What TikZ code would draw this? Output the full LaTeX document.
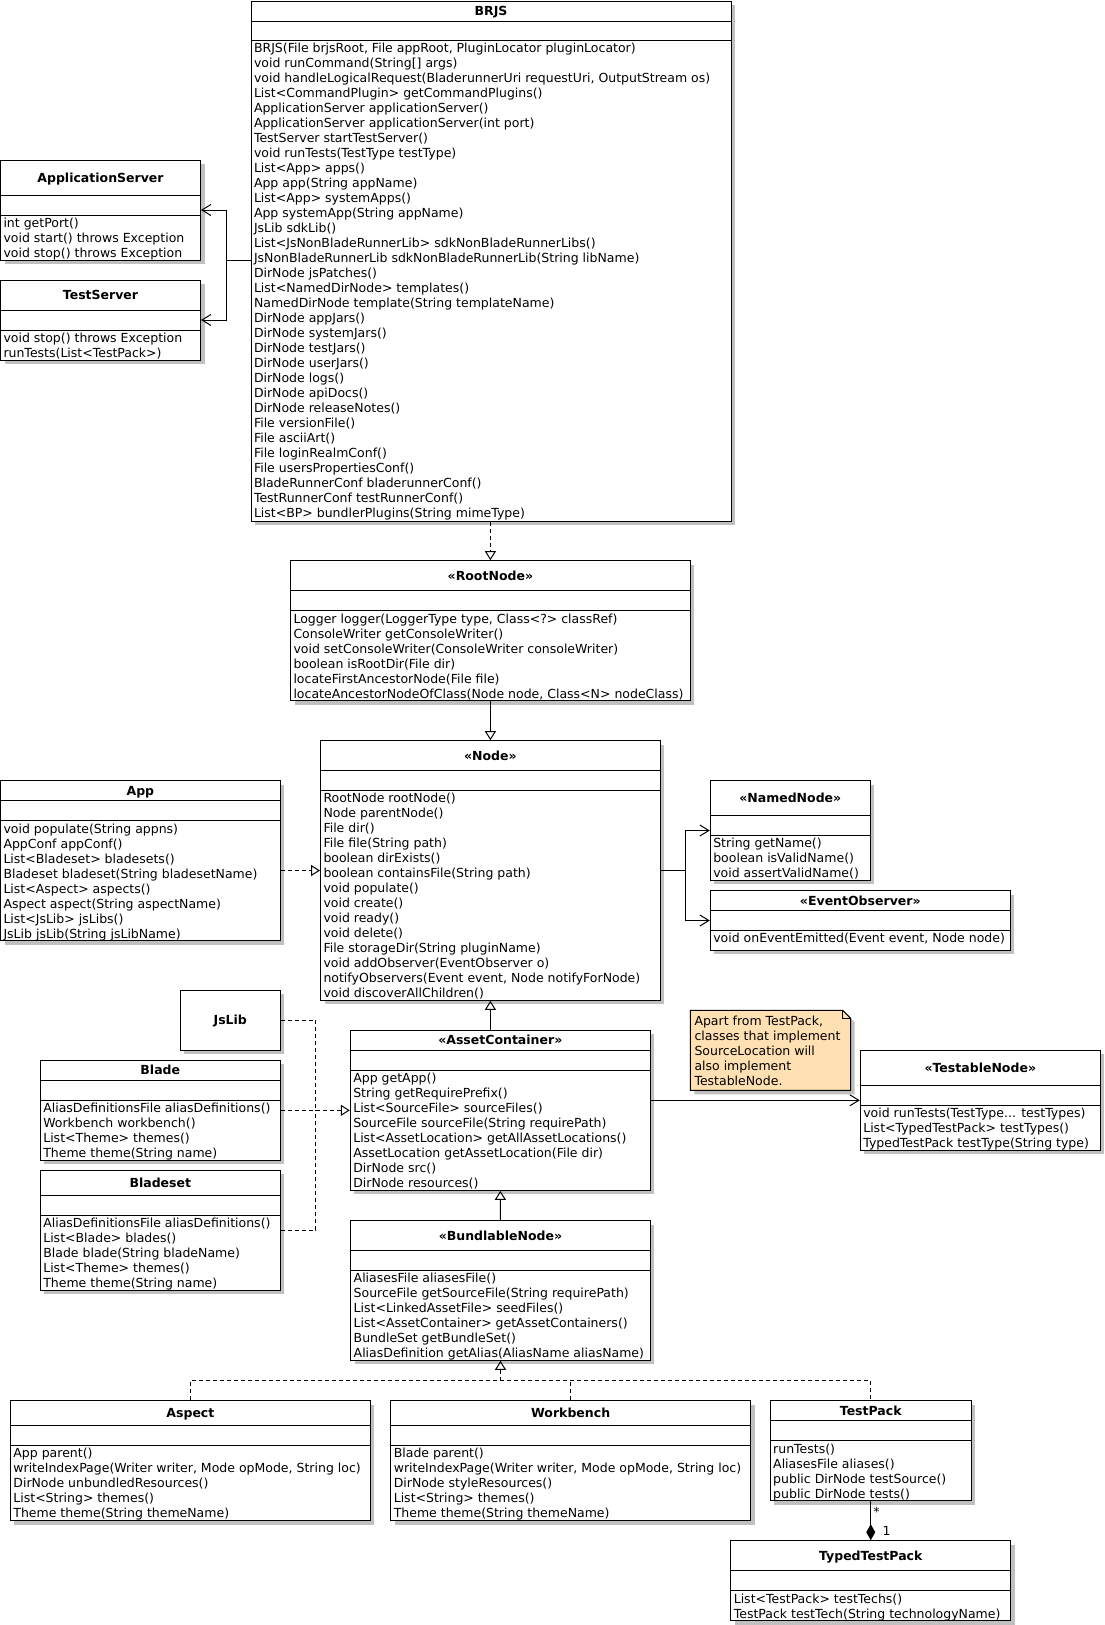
\documentclass[tikz,border=0pt]{standalone}
\usepackage{fontspec}
\setmainfont{DejaVu Sans}
\usepackage{tikz}
\usetikzlibrary{arrows.meta,fit,calc}

\definecolor{shadowgray}{RGB}{192,192,192}
\definecolor{notefill}{RGB}{255,224,178}

\tikzset{
	classbox/.style={draw, fill=white, inner sep=0pt},
	classtitle/.style={font=\fontsize{12.5}{15}\selectfont\bfseries, anchor=base, inner sep=0pt},
	member/.style={font=\fontsize{12.5}{15}\selectfont, anchor=base west, inner sep=0pt},
	mult/.style={font=\fontsize{12.5}{15}\selectfont, inner sep=0pt},
	dashline/.style={dash pattern=on 4pt off 3pt},
	realize/.style={dashline, -{Triangle[open, length=9pt, width=11pt]}},
	generalize/.style={-{Triangle[open, length=9pt, width=11pt]}},
	assoc/.style={-{Straight Barb[length=9pt, width=11pt]}},
	compose/.style={-{Diamond[length=16pt, width=9pt]}}
}

% name, x1, y1, x2, y2, title line, empty line, title, members
\newcommand{\umlclass}[9]{%
	\fill [shadowgray] (#2+4,#3+4) rectangle (#4+4,#5+4);
	\node [classbox, fit={(#2,#3) (#4,#5)}] (#1) {};
	\draw (#2,#6) -- (#4,#6);
	\draw (#2,#7) -- (#4,#7);
	\node [classtitle] (#1-title) at ({(#2+#4)/2},{(#3+#6)/2+4.6}) {#8};
	\foreach \m [count=\i] in {#9}
		\node [member] (#1-m\i) at (#2+2.5,{#7+12.3+15*(\i-1)}) {\m};
}

\begin{document}
\begin{tikzpicture}[x=1pt, y=-1pt, line width=1pt]
	\useasboundingbox (0,0) rectangle (1105,1625);

	\umlclass{BRJS}{251}{1}{731}{521}{21}{40}{BRJS}{%
		{BRJS(File brjsRoot, File appRoot, PluginLocator pluginLocator)},
		{void runCommand(String[] args)},
		{void handleLogicalRequest(BladerunnerUri requestUri, OutputStream os)},
		{List<CommandPlugin> getCommandPlugins()},
		{ApplicationServer applicationServer()},
		{ApplicationServer applicationServer(int port)},
		{TestServer startTestServer()},
		{void runTests(TestType testType)},
		{List<App> apps()},
		{App app(String appName)},
		{List<App> systemApps()},
		{App systemApp(String appName)},
		{JsLib sdkLib()},
		{List<JsNonBladeRunnerLib> sdkNonBladeRunnerLibs()},
		{JsNonBladeRunnerLib sdkNonBladeRunnerLib(String libName)},
		{DirNode jsPatches()},
		{List<NamedDirNode> templates()},
		{NamedDirNode template(String templateName)},
		{DirNode appJars()},
		{DirNode systemJars()},
		{DirNode testJars()},
		{DirNode userJars()},
		{DirNode logs()},
		{DirNode apiDocs()},
		{DirNode releaseNotes()},
		{File versionFile()},
		{File asciiArt()},
		{File loginRealmConf()},
		{File usersPropertiesConf()},
		{BladeRunnerConf bladerunnerConf()},
		{TestRunnerConf testRunnerConf()},
		{List<BP> bundlerPlugins(String mimeType)}}

	\umlclass{ApplicationServer}{0.5}{160}{200.5}{260}{195}{215}{ApplicationServer}{%
		{int getPort()},
		{void start() throws Exception},
		{void stop() throws Exception}}

	\umlclass{TestServer}{0.5}{280}{200.5}{360}{310}{330}{TestServer}{%
		{void stop() throws Exception},
		{runTests(List<TestPack>)}}

	\umlclass{RootNode}{290.5}{560.7}{690.3}{700.5}{590.7}{610.7}{«RootNode»}{%
		{Logger logger(LoggerType type, Class<?> classRef)},
		{ConsoleWriter getConsoleWriter()},
		{void setConsoleWriter(ConsoleWriter consoleWriter)},
		{boolean isRootDir(File dir)},
		{locateFirstAncestorNode(File file)},
		{locateAncestorNodeOfClass(Node node, Class<N> nodeClass)}}

	\umlclass{Node}{320.5}{740.7}{660.3}{1000.3}{770.3}{790.3}{«Node»}{%
		{RootNode rootNode()},
		{Node parentNode()},
		{File dir()},
		{File file(String path)},
		{boolean dirExists()},
		{boolean containsFile(String path)},
		{void populate()},
		{void create()},
		{void ready()},
		{void delete()},
		{File storageDir(String pluginName)},
		{void addObserver(EventObserver o)},
		{notifyObservers(Event event, Node notifyForNode)},
		{void discoverAllChildren()}}

	\umlclass{App}{0.5}{780.7}{280.3}{940.7}{800.7}{820.7}{App}{%
		{void populate(String appns)},
		{AppConf appConf()},
		{List<Bladeset> bladesets()},
		{Bladeset bladeset(String bladesetName)},
		{List<Aspect> aspects()},
		{Aspect aspect(String aspectName)},
		{List<JsLib> jsLibs()},
		{JsLib jsLib(String jsLibName)}}

	\umlclass{NamedNode}{710.3}{780.7}{870.3}{880.3}{815.3}{835.3}{«NamedNode»}{%
		{String getName()},
		{boolean isValidName()},
		{void assertValidName()}}

	\umlclass{EventObserver}{710.3}{890.7}{1010.3}{950.3}{910.3}{930.3}{«EventObserver»}{%
		{void onEventEmitted(Event event, Node node)}}

	\fill [shadowgray] (184.3,994.3) rectangle (284.3,1054.3);
	\node [classbox, fit={(180.3,990.3) (280.3,1050.3)}] (JsLib) {};
	\node [classtitle] (JsLib-title) at (230.3,1024.9) {JsLib};

	\umlclass{Blade}{40.3}{1060.3}{280.3}{1160.3}{1080.3}{1100.3}{Blade}{%
		{AliasDefinitionsFile aliasDefinitions()},
		{Workbench workbench()},
		{List<Theme> themes()},
		{Theme theme(String name)}}

	\umlclass{Bladeset}{40.3}{1170.3}{280.3}{1290.3}{1195.3}{1215.3}{Bladeset}{%
		{AliasDefinitionsFile aliasDefinitions()},
		{List<Blade> blades()},
		{Blade blade(String bladeName)},
		{List<Theme> themes()},
		{Theme theme(String name)}}

	\umlclass{AssetContainer}{350.3}{1030.3}{650.3}{1190.3}{1050.3}{1070.3}{«AssetContainer»}{%
		{App getApp()},
		{String getRequirePrefix()},
		{List<SourceFile> sourceFiles()},
		{SourceFile sourceFile(String requirePath)},
		{List<AssetLocation> getAllAssetLocations()},
		{AssetLocation getAssetLocation(File dir)},
		{DirNode src()},
		{DirNode resources()}}

	\fill [shadowgray] (694.3,1014.3) -- (846.7,1014.3) -- (854.7,1022.3) -- (854.7,1094.3) -- (694.3,1094.3) -- cycle;
	\draw [fill=notefill] (690.3,1010.3) -- (842.7,1010.3) -- (850.7,1018.3) -- (850.7,1090.3) -- (690.3,1090.3) -- cycle;
	\draw (842.7,1010.3) -- (842.7,1018.3) -- (850.7,1018.3);
	\foreach \t [count=\i] in {{Apart from TestPack,}, {classes that implement}, {SourceLocation will}, {also implement}, {TestableNode.}}
		\node [member] (note-\i) at (694,{1025.3+15*(\i-1)}) {\t};

	\umlclass{TestableNode}{860.3}{1050.3}{1100.3}{1150.3}{1085.3}{1105.3}{«TestableNode»}{%
		{void runTests(TestType.{}.{}. testTypes)},
		{List<TypedTestPack> testTypes()},
		{TypedTestPack testType(String type)}}

	\umlclass{BundlableNode}{350.7}{1220.7}{650.3}{1360.3}{1250.3}{1270.3}{«BundlableNode»}{%
		{AliasesFile aliasesFile()},
		{SourceFile getSourceFile(String requirePath)},
		{List<LinkedAssetFile> seedFiles()},
		{List<AssetContainer> getAssetContainers()},
		{BundleSet getBundleSet()},
		{AliasDefinition getAlias(AliasName aliasName)}}

	\umlclass{Aspect}{10.4}{1400.7}{370.4}{1520.7}{1425.3}{1445.3}{Aspect}{%
		{App parent()},
		{writeIndexPage(Writer writer, Mode opMode, String loc)},
		{DirNode unbundledResources()},
		{List<String> themes()},
		{Theme theme(String themeName)}}

	\umlclass{Workbench}{390.8}{1400.7}{750.5}{1520.7}{1425.3}{1445.3}{Workbench}{%
		{Blade parent()},
		{writeIndexPage(Writer writer, Mode opMode, String loc)},
		{DirNode styleResources()},
		{List<String> themes()},
		{Theme theme(String themeName)}}

	\umlclass{TestPack}{770.2}{1400.7}{971.3}{1500.7}{1420.7}{1440.7}{TestPack}{%
		{runTests()},
		{AliasesFile aliases()},
		{public DirNode testSource()},
		{public DirNode tests()}}

	\umlclass{TypedTestPack}{730.8}{1540.7}{1010.7}{1620.7}{1570.7}{1590.7}{TypedTestPack}{%
		{List<TestPack> testTechs()},
		{TestPack testTech(String technologyName)}}

	\coordinate (srv) at (226,260);
	\draw [assoc] (BRJS.west |- srv) -- (srv) |- (ApplicationServer.east);
	\draw [assoc] (srv) |- (TestServer.east);

	\draw [realize] (BRJS.south -| RootNode.north) -- (RootNode.north);
	\draw [generalize] (RootNode.south) -- (Node.north);
	\draw [realize] (App.east |- Node.west) -- (Node.west);

	\coordinate (obs) at ($(Node.east)+(25,0)$);
	\draw [assoc] (Node.east) -- (obs) |- (NamedNode.west);
	\draw [assoc] (obs) |- (EventObserver.west);

	\draw [generalize] (Node.south |- AssetContainer.north) -- (Node.south);
	\draw [assoc] (AssetContainer.east |- TestableNode.west) -- (TestableNode.west);

	\coordinate (lib) at ($(Blade.east)+(35,0)$);
	\draw [dashline] (JsLib.east) -| (lib);
	\draw [dashline] (Bladeset.east) -| (lib);
	\draw [realize] (Blade.east) -- (AssetContainer.west);

	\draw [generalize] (BundlableNode.north) -- (AssetContainer.south);
	\coordinate (bus) at ($(BundlableNode.south)+(0,20)$);
	\draw [dashline] (Aspect.north) |- (bus) -| (TestPack.north);
	\draw [dashline] (Workbench.north) -- (Workbench.north |- bus);
	\draw [realize] (bus) -- (BundlableNode.south);

	\draw [compose] (TestPack.south) -- (TypedTestPack.north);
	\node [mult] (many) at (876.5,1512.3) {*};
	\node [mult] (one) at (886.7,1530.7) {1};
\end{tikzpicture}
\end{document}
